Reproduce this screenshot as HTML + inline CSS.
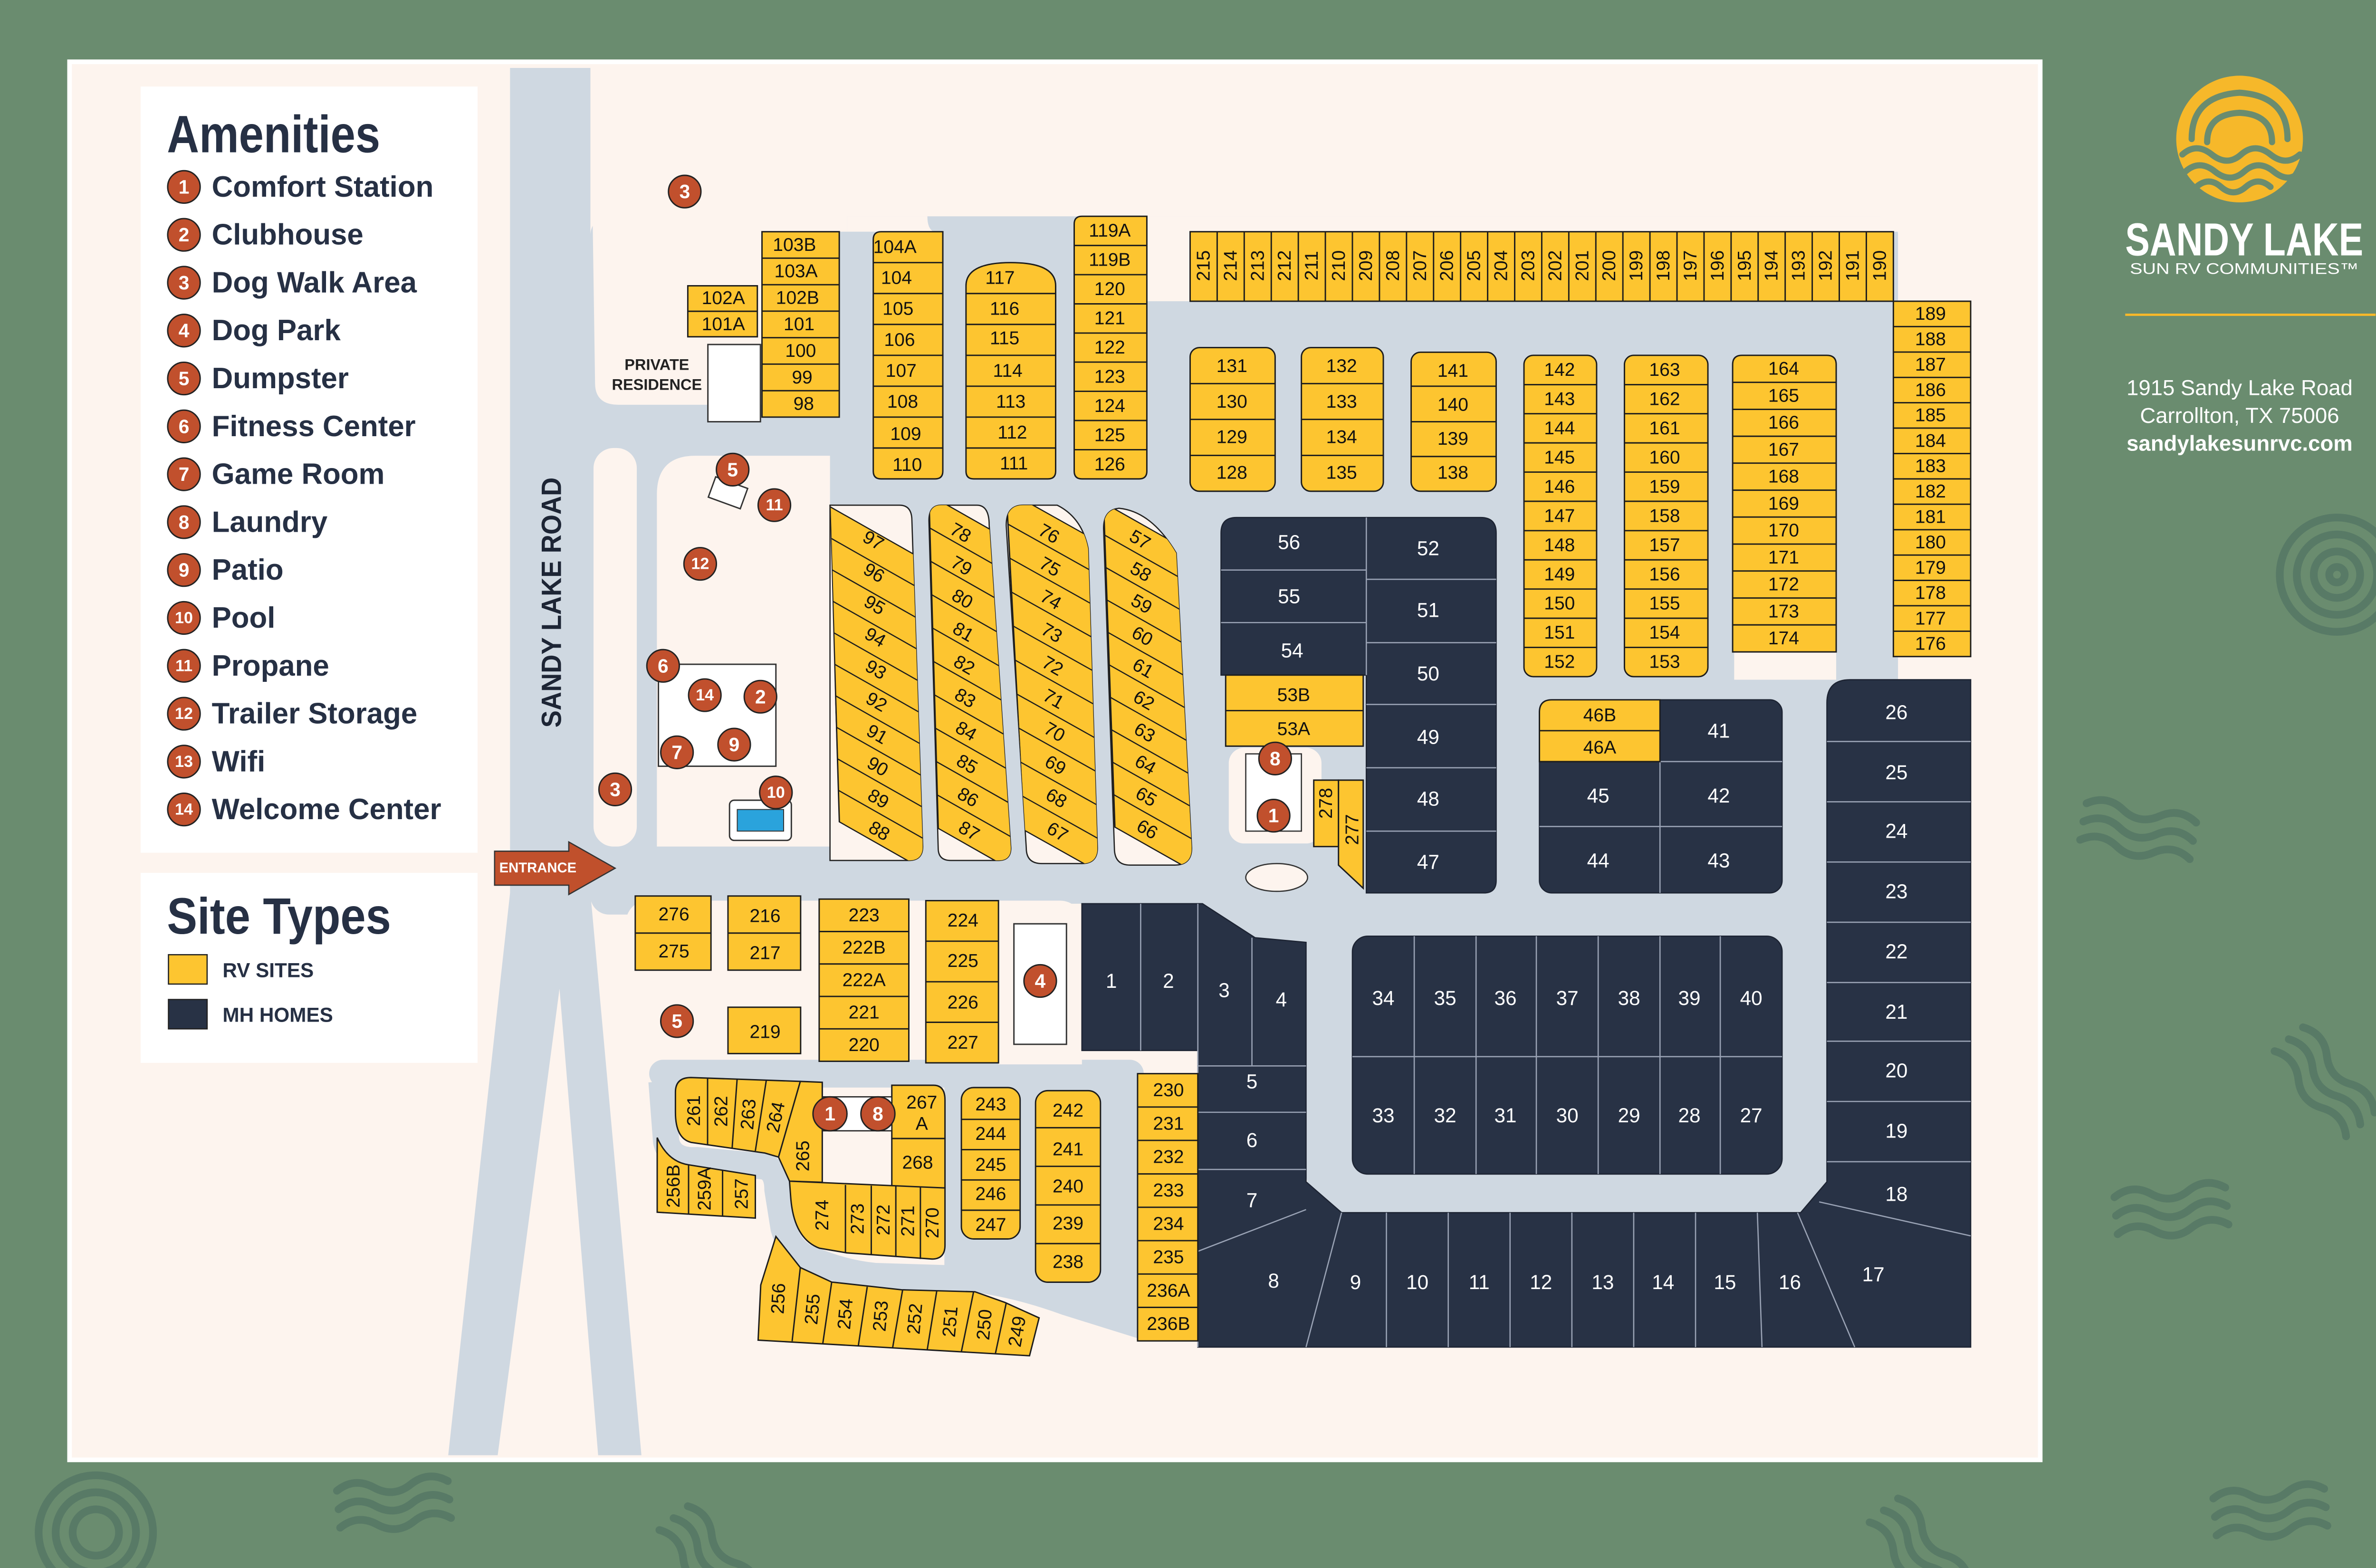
<!DOCTYPE html>
<html><head><meta charset="utf-8"><style>
html,body{margin:0;padding:0;background:#6a8c6f;}
svg{display:block}
.t{font-family:"Liberation Sans Narrow","Liberation Sans",sans-serif;font-size:12px;fill:#111;text-anchor:middle;dominant-baseline:central}
.y{fill:#fdc530;stroke:#1d1d1d;stroke-width:0.9}
.sep{stroke:#1d1d1d;stroke-width:0.9;fill:none}
.n{fill:#283245;stroke:#1d2433;stroke-width:0.8}
.nsep{stroke:#9aa3b5;stroke-width:0.8;fill:none}
.w{font-family:"Liberation Sans Narrow","Liberation Sans",sans-serif;font-size:13px;fill:#fff;text-anchor:middle;dominant-baseline:central}
.c circle{fill:#c1502d;stroke:#222;stroke-width:0.9}
.c text{font-family:"Liberation Sans",sans-serif;font-size:12.5px;font-weight:bold;fill:#fff;text-anchor:middle;dominant-baseline:central}
.lg{font-family:"Liberation Sans",sans-serif;font-size:19px;font-weight:bold;fill:#263044;dominant-baseline:central}
.dec{fill:none;stroke:#587a66;stroke-width:5;stroke-linecap:round}
.road{fill:#cfd8e1}
.cream{fill:#fdf4ee}
</style></head><body>
<svg width="5100" height="3300" viewBox="0 0 1568 1015" preserveAspectRatio="none" xmlns="http://www.w3.org/2000/svg">
<rect width="1568" height="1015" fill="#6a8c6f"/>
<g class="dec">
<circle cx="1512" cy="372" r="37"/><circle cx="1512" cy="372" r="26"/><circle cx="1512" cy="372" r="15"/><circle cx="1512" cy="372" r="5"/>
<circle cx="62" cy="992" r="37"/><circle cx="62" cy="992" r="26"/><circle cx="62" cy="992" r="15"/>
<g transform="translate(1350,520) rotate(10)"><path d="M0 0q12-8 24 0t24 0t24 0"/><path d="M0 12q12-8 24 0t24 0t24 0"/><path d="M0 24q12-8 24 0t24 0t24 0"/></g>
<g transform="translate(1490,665) rotate(50)"><path d="M0 0q12-8 24 0t24 0t24 0"/><path d="M0 12q12-8 24 0t24 0t24 0"/><path d="M0 24q12-8 24 0t24 0t24 0"/></g>
<g transform="translate(1368,775) rotate(-5)"><path d="M0 0q12-8 24 0t24 0t24 0"/><path d="M0 12q12-8 24 0t24 0t24 0"/><path d="M0 24q12-8 24 0t24 0t24 0"/></g>
<g transform="translate(218,965) rotate(-5)"><path d="M0 0q12-8 24 0t24 0t24 0"/><path d="M0 12q12-8 24 0t24 0t24 0"/><path d="M0 24q12-8 24 0t24 0t24 0"/></g>
<g transform="translate(445,975) rotate(50)"><path d="M0 0q12-8 24 0t24 0t24 0"/><path d="M0 12q12-8 24 0t24 0t24 0"/><path d="M0 24q12-8 24 0t24 0t24 0"/></g>
<g transform="translate(1228,970) rotate(50)"><path d="M0 0q12-8 24 0t24 0t24 0"/><path d="M0 12q12-8 24 0t24 0t24 0"/><path d="M0 24q12-8 24 0t24 0t24 0"/></g>
<g transform="translate(1432,970) rotate(-5)"><path d="M0 0q12-8 24 0t24 0t24 0"/><path d="M0 12q12-8 24 0t24 0t24 0"/><path d="M0 24q12-8 24 0t24 0t24 0"/></g>
</g>
<rect x="45" y="40" width="1275" height="905" class="cream" stroke="#fff" stroke-width="3"/>
<rect x="91" y="56" width="218" height="496" fill="#fff"/>
<rect x="91" y="565" width="218" height="123" fill="#fff"/>
<text x="108" y="87" textLength="138" lengthAdjust="spacingAndGlyphs" style="font-family:'Liberation Sans Narrow','Liberation Sans',sans-serif;font-size:34px;font-weight:bold;fill:#263044;dominant-baseline:central">Amenities</text>
<g class="c">
<circle cx="119" cy="121" r="10.5"/><text x="119" y="121">1</text>
<circle cx="119" cy="152" r="10.5"/><text x="119" y="152">2</text>
<circle cx="119" cy="183" r="10.5"/><text x="119" y="183">3</text>
<circle cx="119" cy="214" r="10.5"/><text x="119" y="214">4</text>
<circle cx="119" cy="245" r="10.5"/><text x="119" y="245">5</text>
<circle cx="119" cy="276" r="10.5"/><text x="119" y="276">6</text>
<circle cx="119" cy="307" r="10.5"/><text x="119" y="307">7</text>
<circle cx="119" cy="338" r="10.5"/><text x="119" y="338">8</text>
<circle cx="119" cy="369" r="10.5"/><text x="119" y="369">9</text>
<circle cx="119" cy="400" r="10.5"/><text x="119" y="400" style="font-size:10.5px">10</text>
<circle cx="119" cy="431" r="10.5"/><text x="119" y="431" style="font-size:10.5px">11</text>
<circle cx="119" cy="462" r="10.5"/><text x="119" y="462" style="font-size:10.5px">12</text>
<circle cx="119" cy="493" r="10.5"/><text x="119" y="493" style="font-size:10.5px">13</text>
<circle cx="119" cy="524" r="10.5"/><text x="119" y="524" style="font-size:10.5px">14</text>
</g>
<text class="lg" x="137" y="121">Comfort Station</text>
<text class="lg" x="137" y="152">Clubhouse</text>
<text class="lg" x="137" y="183">Dog Walk Area</text>
<text class="lg" x="137" y="214">Dog Park</text>
<text class="lg" x="137" y="245">Dumpster</text>
<text class="lg" x="137" y="276">Fitness Center</text>
<text class="lg" x="137" y="307">Game Room</text>
<text class="lg" x="137" y="338">Laundry</text>
<text class="lg" x="137" y="369">Patio</text>
<text class="lg" x="137" y="400">Pool</text>
<text class="lg" x="137" y="431">Propane</text>
<text class="lg" x="137" y="462">Trailer Storage</text>
<text class="lg" x="137" y="493">Wifi</text>
<text class="lg" x="137" y="524">Welcome Center</text>
<text x="108" y="593" textLength="145" lengthAdjust="spacingAndGlyphs" style="font-family:'Liberation Sans Narrow','Liberation Sans',sans-serif;font-size:33px;font-weight:bold;fill:#263044;dominant-baseline:central">Site Types</text>
<rect x="109" y="618" width="25" height="19" fill="#fdc530" stroke="#222" stroke-width="0.8"/>
<rect x="109" y="647" width="25" height="19" fill="#283245" stroke="#222" stroke-width="0.8"/>
<text x="144" y="628" style="font-family:'Liberation Sans',sans-serif;font-size:13px;font-weight:bold;fill:#263044;dominant-baseline:central">RV SITES</text>
<text x="144" y="657" style="font-family:'Liberation Sans',sans-serif;font-size:13px;font-weight:bold;fill:#263044;dominant-baseline:central">MH HOMES</text>

<polygon class="road" points="330,44 382,44 382,578 415,942 387,942 362,640 322,942 290,942 330,578"/>
<rect class="road" x="382" y="140" width="846" height="452" rx="12"/>
<rect class="road" x="382" y="548" width="420" height="35"/>
<rect class="road" x="700" y="575" width="485" height="35"/>
<rect class="road" x="845" y="580" width="340" height="208" rx="30"/>
<path class="cream" d="M382 44 H548 V150 H495 V262 H400 Q385 262 385 248 Z"/>
<rect class="cream" x="548" y="44" width="770" height="96"/>
<path class="cream" d="M548 140 H600 Q600 148 604 150 H548Z"/>
<path class="cream" d="M742 140 H1318 V150 H770 V195 H742Z"/>
<rect class="cream" x="384" y="290" width="28" height="258" rx="13"/>
<path class="cream" d="M450 295 H537 V548 H425 V320 Q425 295 450 295Z"/>
<rect class="cream" x="795" y="484" width="60" height="62" rx="10"/>
<ellipse class="cream" cx="826" cy="568" rx="20" ry="9" stroke="#333" stroke-width="0.8"/>
<rect class="cream" x="1122" y="415" width="66" height="25"/>
<rect x="806" y="488" width="36" height="50" fill="#fff" stroke="#333" stroke-width="0.8"/>
<rect class="cream" x="405" y="583" width="295" height="106" rx="14"/>
<polygon class="road" points="611,690 736,690 736,865 700,852 660,838 630,836 611,830"/>
<rect class="road" x="420" y="686" width="320" height="18" rx="9"/>
<path d="M428 700 L431 739 Q434 752 451 751 L494 755 Q503 757 503 770 L507 795 Q512 812 527 816 Q546 824 566 826 L631 828 Q660 832 690 843 L738 858" fill="none" stroke="#cfd8e1" stroke-width="17" stroke-linejoin="round"/>
<rect x="646" y="585" width="54" height="104" fill="#fdf4ee"/>
<rect x="656" y="598" width="34" height="78" fill="#fff" stroke="#333" stroke-width="0.9"/>

<rect x="458" y="223" width="34" height="50" fill="#fff" stroke="#333" stroke-width="0.9"/>
<text x="425" y="236" style="font-family:'Liberation Sans',sans-serif;font-size:10px;font-weight:bold;fill:#222;text-anchor:middle;dominant-baseline:central">PRIVATE</text>
<text x="425" y="249" style="font-family:'Liberation Sans',sans-serif;font-size:10px;font-weight:bold;fill:#222;text-anchor:middle;dominant-baseline:central">RESIDENCE</text>

<rect x="460" y="312" width="22" height="14" fill="#fff" stroke="#333" stroke-width="0.9" transform="rotate(20 471 319)"/>
<rect x="426" y="430" width="76" height="66" fill="#fff" stroke="#333" stroke-width="0.9"/>
<rect x="472" y="518" width="40" height="26" fill="#fff" stroke="#333" stroke-width="0.9" rx="3"/>
<rect x="477" y="524" width="30" height="14" fill="#2aa3dc" stroke="#333" stroke-width="0.6"/>

<rect class="y" x="770" y="150" width="455" height="45"/>
<path class="sep" d="M787.5 150V195M805 150V195M822.5 150V195M840 150V195M857.5 150V195M875 150V195M892.5 150V195M910 150V195M927.5 150V195M945 150V195M962.5 150V195M980 150V195M997.5 150V195M1015 150V195M1032.5 150V195M1050 150V195M1067.5 150V195M1085 150V195M1102.5 150V195M1120 150V195M1137.5 150V195M1155 150V195M1172.5 150V195M1190 150V195M1207.5 150V195"/>
<g class="t">
<text transform="translate(778.75,172) rotate(-90)">215</text><text transform="translate(796.25,172) rotate(-90)">214</text><text transform="translate(813.75,172) rotate(-90)">213</text><text transform="translate(831.25,172) rotate(-90)">212</text><text transform="translate(848.75,172) rotate(-90)">211</text><text transform="translate(866.25,172) rotate(-90)">210</text><text transform="translate(883.75,172) rotate(-90)">209</text><text transform="translate(901.25,172) rotate(-90)">208</text><text transform="translate(918.75,172) rotate(-90)">207</text><text transform="translate(936.25,172) rotate(-90)">206</text><text transform="translate(953.75,172) rotate(-90)">205</text><text transform="translate(971.25,172) rotate(-90)">204</text><text transform="translate(988.75,172) rotate(-90)">203</text><text transform="translate(1006.25,172) rotate(-90)">202</text><text transform="translate(1023.75,172) rotate(-90)">201</text><text transform="translate(1041.25,172) rotate(-90)">200</text><text transform="translate(1058.75,172) rotate(-90)">199</text><text transform="translate(1076.25,172) rotate(-90)">198</text><text transform="translate(1093.75,172) rotate(-90)">197</text><text transform="translate(1111.25,172) rotate(-90)">196</text><text transform="translate(1128.75,172) rotate(-90)">195</text><text transform="translate(1146.25,172) rotate(-90)">194</text><text transform="translate(1163.75,172) rotate(-90)">193</text><text transform="translate(1181.25,172) rotate(-90)">192</text><text transform="translate(1198.75,172) rotate(-90)">191</text><text transform="translate(1216.25,172) rotate(-90)">190</text>
</g>
<rect class="y" x="1225" y="195" width="50" height="230"/>
<path class="sep" d="M1225 211.4H1275M1225 227.9H1275M1225 244.3H1275M1225 260.7H1275M1225 277.1H1275M1225 293.6H1275M1225 310H1275M1225 326.4H1275M1225 342.9H1275M1225 359.3H1275M1225 375.7H1275M1225 392.1H1275M1225 408.6H1275"/>
<g class="t"><text x="1249" y="203.2">189</text><text x="1249" y="219.6">188</text><text x="1249" y="236.1">187</text><text x="1249" y="252.5">186</text><text x="1249" y="268.9">185</text><text x="1249" y="285.4">184</text><text x="1249" y="301.8">183</text><text x="1249" y="318.2">182</text><text x="1249" y="334.6">181</text><text x="1249" y="351.1">180</text><text x="1249" y="367.5">179</text><text x="1249" y="383.9">178</text><text x="1249" y="400.4">177</text><text x="1249" y="416.8">176</text></g>
<path class="y" d="M695 145Q695 140 700 140H742V305Q742 310 737 310H700Q695 310 695 305Z"/>
<path class="sep" d="M695 158.9H742M695 177.8H742M695 196.7H742M695 215.6H742M695 234.4H742M695 253.3H742M695 272.2H742M695 291.1H742"/>
<g class="t"><text x="718" y="149.4">119A</text><text x="718" y="168.3">119B</text><text x="718" y="187.2">120</text><text x="718" y="206.1">121</text><text x="718" y="225">122</text><text x="718" y="243.9">123</text><text x="718" y="262.8">124</text><text x="718" y="281.7">125</text><text x="718" y="300.6">126</text></g>
<path class="y" d="M625 185Q625 170 654 170Q683 170 683 185V305Q683 310 678 310H630Q625 310 625 305Z"/>
<path class="sep" d="M625 190H683M625 210H683M625 230H683M625 250H683M625 270H683M625 290H683"/>
<g class="t"><text x="647" y="180">117</text><text x="650" y="200">116</text><text x="650" y="219">115</text><text x="652" y="240">114</text><text x="654" y="260">113</text><text x="655" y="280">112</text><text x="656" y="300">111</text></g>
<path class="y" d="M565 155Q565 150 570 150H610V305Q610 310 605 310H570Q565 310 565 305Z"/>
<path class="sep" d="M565 170H610M565 190H610M565 210H610M565 230H610M565 250H610M565 270H610M565 290H610"/>
<g class="t"><text x="579" y="160">104A</text><text x="580" y="180">104</text><text x="581" y="200">105</text><text x="582" y="220">106</text><text x="583" y="240">107</text><text x="584" y="260">108</text><text x="586" y="281">109</text><text x="587" y="301">110</text></g>
<rect class="y" x="493" y="150" width="50" height="120"/>
<path class="sep" d="M493 167.1H543M493 184.3H543M493 201.4H543M493 218.6H543M493 235.7H543M493 252.9H543"/>
<g class="t"><text x="514" y="158.6">103B</text><text x="515" y="175.7">103A</text><text x="516" y="192.9">102B</text><text x="517" y="210">101</text><text x="518" y="227.1">100</text><text x="519" y="244.3">99</text><text x="520" y="261.4">98</text></g>
<rect class="y" x="445" y="185" width="45" height="33"/>
<path class="sep" d="M445 201.5H490"/>
<g class="t"><text x="468" y="193">102A</text><text x="468" y="210">101A</text></g>
<rect class="y" x="770" y="225" width="55" height="93" rx="6"/><path class="sep" d="M770 248.3H825M770 271.5H825M770 294.8H825"/>
<rect class="y" x="842" y="225" width="53" height="93" rx="6"/><path class="sep" d="M842 248.3H895M842 271.5H895M842 294.8H895"/>
<rect class="y" x="913" y="228" width="55" height="90" rx="6"/><path class="sep" d="M913 250H968M913 273H968M913 295.5H968"/>
<g class="t"><text x="797" y="237">131</text><text x="797" y="260">130</text><text x="797" y="283">129</text><text x="797" y="306">128</text>
<text x="868" y="237">132</text><text x="868" y="260">133</text><text x="868" y="283">134</text><text x="868" y="306">135</text>
<text x="940" y="240">141</text><text x="940" y="262">140</text><text x="940" y="284">139</text><text x="940" y="306">138</text></g>
<rect class="y" x="986" y="230" width="47" height="208" rx="6"/>
<path class="sep" d="M986 249H1033M986 267.8H1033M986 286.7H1033M986 305.6H1033M986 324.5H1033M986 343.5H1033M986 362.4H1033M986 381.3H1033M986 400.2H1033M986 419.1H1033"/>
<g class="t"><text x="1009" y="239.5">142</text><text x="1009" y="258.4">143</text><text x="1009" y="277.3">144</text><text x="1009" y="296.2">145</text><text x="1009" y="315.1">146</text><text x="1009" y="334">147</text><text x="1009" y="352.9">148</text><text x="1009" y="371.8">149</text><text x="1009" y="390.7">150</text><text x="1009" y="409.6">151</text><text x="1009" y="428.5">152</text></g>
<rect class="y" x="1051" y="230" width="54" height="208" rx="6"/>
<path class="sep" d="M1051 249H1105M1051 267.8H1105M1051 286.7H1105M1051 305.6H1105M1051 324.5H1105M1051 343.5H1105M1051 362.4H1105M1051 381.3H1105M1051 400.2H1105M1051 419.1H1105"/>
<g class="t"><text x="1077" y="239.5">163</text><text x="1077" y="258.4">162</text><text x="1077" y="277.3">161</text><text x="1077" y="296.2">160</text><text x="1077" y="315.1">159</text><text x="1077" y="334">158</text><text x="1077" y="352.9">157</text><text x="1077" y="371.8">156</text><text x="1077" y="390.7">155</text><text x="1077" y="409.6">154</text><text x="1077" y="428.5">153</text></g>
<path class="y" d="M1121 236Q1121 230 1127 230H1182Q1188 230 1188 236V422H1121Z"/>
<path class="sep" d="M1121 247.5H1188M1121 265H1188M1121 282.4H1188M1121 299.8H1188M1121 317.3H1188M1121 334.7H1188M1121 352.2H1188M1121 369.6H1188M1121 387.1H1188M1121 404.5H1188"/>
<g class="t"><text x="1154" y="238.7">164</text><text x="1154" y="256.2">165</text><text x="1154" y="273.6">166</text><text x="1154" y="291.1">167</text><text x="1154" y="308.5">168</text><text x="1154" y="326">169</text><text x="1154" y="343.4">170</text><text x="1154" y="360.9">171</text><text x="1154" y="378.3">172</text><text x="1154" y="395.8">173</text><text x="1154" y="413.2">174</text></g>

<defs>
<clipPath id="k1"><path d="M537 327H582Q590 327 590 337L597 548Q597 557 588 557H543Z"/></clipPath>
<clipPath id="k2"><path d="M609 327H632Q640 327 640 340L654 549Q654 557 646 557H615Q607 557 607 549L601 337Q601 327 609 327Z"/></clipPath>
<clipPath id="k3"><path d="M662 327H684Q700 335 704 355L710 549Q710 559 700 559H674Q664 559 664 549L651 340Q651 327 662 327Z"/></clipPath>
<clipPath id="k4"><path d="M724 329Q745 331 761 358L771 549Q771 560 760 560H731Q721 560 721 549L714 342Q714 330 724 329Z"/></clipPath>
</defs>
<path class="cream" d="M537 327H582Q590 327 590 337L597 548Q597 557 588 557H537Z" stroke="#222" stroke-width="0.8"/>
<path class="cream" d="M609 327H632Q640 327 640 340L654 549Q654 557 646 557H615Q607 557 607 549L601 337Q601 327 609 327Z" stroke="#222" stroke-width="0.8"/>
<path class="cream" d="M662 327H684Q700 335 704 355L710 549Q710 559 700 559H674Q664 559 664 549L651 340Q651 327 662 327Z" stroke="#222" stroke-width="0.8"/>
<path class="cream" d="M724 329Q745 331 761 358L771 549Q771 560 760 560H731Q721 560 721 549L714 342Q714 330 724 329Z" stroke="#222" stroke-width="0.8"/>
<g clip-path="url(#k1)"><g transform="translate(537,328) skewX(1.7) skewY(30)"><rect class="y" x="0" y="0" width="62" height="204"/><path class="sep" d="M0 20.4H62M0 40.8H62M0 61.2H62M0 81.6H62M0 102H62M0 122.4H62M0 142.8H62M0 163.2H62M0 183.6H62"/></g></g>
<g clip-path="url(#k2)"><g transform="translate(601,320.2) skewX(1.6) skewY(30)"><rect class="y" x="0" y="0" width="56" height="216"/><path class="sep" d="M0 21.6H56M0 43.2H56M0 64.8H56M0 86.4H56M0 108H56M0 129.6H56M0 151.2H56M0 172.8H56M0 194.4H56"/></g></g>
<g clip-path="url(#k3)"><g transform="translate(651,317.3) skewX(3) skewY(30)"><rect class="y" x="0" y="0" width="62" height="220"/><path class="sep" d="M0 22H62M0 44H62M0 66H62M0 88H62M0 110H62M0 132H62M0 154H62M0 176H62M0 198H62"/></g></g>
<g clip-path="url(#k4)"><g transform="translate(714,325.4) skewX(2) skewY(30)"><rect class="y" x="0" y="0" width="60" height="210"/><path class="sep" d="M0 21H60M0 42H60M0 63H60M0 84H60M0 105H60M0 126H60M0 147H60M0 168H60M0 189H60"/></g></g>
<g class="t">
<text transform="translate(565,350) rotate(30)">97</text><text transform="translate(565.4,370.9) rotate(30)">96</text><text transform="translate(565.8,391.8) rotate(30)">95</text><text transform="translate(566.2,412.7) rotate(30)">94</text><text transform="translate(566.6,433.6) rotate(30)">93</text><text transform="translate(567,454.5) rotate(30)">92</text><text transform="translate(567.4,475.4) rotate(30)">91</text><text transform="translate(567.8,496.3) rotate(30)">90</text><text transform="translate(568.2,517.2) rotate(30)">89</text><text transform="translate(568.8,538) rotate(30)">88</text>
<text transform="translate(621.4,345) rotate(30)">78</text><text transform="translate(622,366.4) rotate(30)">79</text><text transform="translate(622.6,387.8) rotate(30)">80</text><text transform="translate(623.2,409.2) rotate(30)">81</text><text transform="translate(623.8,430.6) rotate(30)">82</text><text transform="translate(624.4,452) rotate(30)">83</text><text transform="translate(625,473.4) rotate(30)">84</text><text transform="translate(625.6,494.8) rotate(30)">85</text><text transform="translate(626.2,516.2) rotate(30)">86</text><text transform="translate(626.9,538) rotate(30)">87</text>
<text transform="translate(678.6,345.6) rotate(30)">76</text><text transform="translate(679.2,367) rotate(30)">75</text><text transform="translate(679.8,388.4) rotate(30)">74</text><text transform="translate(680.4,409.8) rotate(30)">73</text><text transform="translate(681,431.2) rotate(30)">72</text><text transform="translate(681.6,452.6) rotate(30)">71</text><text transform="translate(682.2,474) rotate(30)">70</text><text transform="translate(682.8,495.4) rotate(30)">69</text><text transform="translate(683.4,516.8) rotate(30)">68</text><text transform="translate(684.1,538.6) rotate(30)">67</text>
<text transform="translate(737.5,349.5) rotate(30)">57</text><text transform="translate(738,370.3) rotate(30)">58</text><text transform="translate(738.5,391.1) rotate(30)">59</text><text transform="translate(739,411.9) rotate(30)">60</text><text transform="translate(739.5,432.7) rotate(30)">61</text><text transform="translate(740,453.5) rotate(30)">62</text><text transform="translate(740.5,474.3) rotate(30)">63</text><text transform="translate(741,495.1) rotate(30)">64</text><text transform="translate(741.5,515.9) rotate(30)">65</text><text transform="translate(742.2,537) rotate(30)">66</text>
</g>

<path class="n" d="M800 335H958Q968 335 968 345V570Q968 578 960 578H884V437H790V345Q790 335 800 335Z"/>
<path class="nsep" d="M884 335V437M790 369H884M790 403H884M884 375H968M884 416H968M884 456H968M884 497H968M884 538H968"/>
<rect class="y" x="793" y="437" width="89" height="46"/>
<path class="sep" d="M793 460H882"/>
<polygon class="y" points="850,505 866,505 866,548 850,548"/>
<polygon class="y" points="866,505 882,505 882,575 866,560"/>
<g class="w"><text x="834" y="351">56</text><text x="834" y="386">55</text><text x="836" y="421">54</text><text x="924" y="355">52</text><text x="924" y="395">51</text><text x="924" y="436">50</text><text x="924" y="477">49</text><text x="924" y="517">48</text><text x="924" y="558">47</text></g>
<g class="t"><text x="837" y="450">53B</text><text x="837" y="472">53A</text><text transform="translate(858,520) rotate(-90)">278</text><text transform="translate(875,537) rotate(-90)">277</text></g>
<rect class="n" x="996" y="453" width="157" height="125" rx="8"/>
<path class="nsep" d="M1074 453V578M996 535H1153M1074 493H1153"/>
<path class="y" d="M1004 453H1074V493H996V461Q996 453 1004 453Z"/>
<path class="sep" d="M996 473H1074"/>
<g class="t"><text x="1035" y="463">46B</text><text x="1035" y="484">46A</text></g>
<g class="w"><text x="1112" y="473">41</text><text x="1034" y="515">45</text><text x="1112" y="515">42</text><text x="1034" y="557">44</text><text x="1112" y="557">43</text></g>
<rect class="n" x="875" y="606" width="278" height="154" rx="10"/>
<path class="nsep" d="M915 606V760M955 606V760M994 606V760M1034 606V760M1074 606V760M1113 606V760M875 684H1153"/>
<g class="w"><text x="895" y="646">34</text><text x="935" y="646">35</text><text x="974" y="646">36</text><text x="1014" y="646">37</text><text x="1054" y="646">38</text><text x="1093" y="646">39</text><text x="1133" y="646">40</text>
<text x="895" y="722">33</text><text x="935" y="722">32</text><text x="974" y="722">31</text><text x="1014" y="722">30</text><text x="1054" y="722">29</text><text x="1093" y="722">28</text><text x="1133" y="722">27</text></g>
<path class="n" d="M700 585H778L812 607L845 610V765L868 785H1165L1182 765V455Q1182 440 1197 440H1275V872H775V680H700Z"/>
<path class="nsep" d="M738 585V680M775 585V872M810 607V690M775 690H845M775 720H845M775 757H845M775 810L845 783M845 872L868 785M897 785V872M937 785V872M977 785V872M1017 785V872M1057 785V872M1097 785V872M1137 785L1140 872M1163 785L1200 872M1177 778L1275 800M1182 480H1275M1182 519H1275M1182 558H1275M1182 597H1275M1182 636H1275M1182 674H1275M1182 713H1275M1182 752H1275"/>
<g class="w"><text x="719" y="635">1</text><text x="756" y="635">2</text><text x="792" y="641">3</text><text x="829" y="647">4</text><text x="810" y="700">5</text><text x="810" y="738">6</text><text x="810" y="777">7</text><text x="824" y="829">8</text><text x="877" y="830">9</text><text x="917" y="830">10</text><text x="957" y="830">11</text><text x="997" y="830">12</text><text x="1037" y="830">13</text><text x="1076" y="830">14</text><text x="1116" y="830">15</text><text x="1158" y="830">16</text><text x="1212" y="825">17</text><text x="1227" y="773">18</text><text x="1227" y="732">19</text><text x="1227" y="693">20</text><text x="1227" y="655">21</text><text x="1227" y="616">22</text><text x="1227" y="577">23</text><text x="1227" y="538">24</text><text x="1227" y="500">25</text><text x="1227" y="461">26</text></g>

<rect class="y" x="411" y="580" width="49" height="48"/><path class="sep" d="M411 604H460"/>
<g class="t"><text x="436" y="592">276</text><text x="436" y="616">275</text></g>
<rect class="y" x="471" y="580" width="47" height="48"/><path class="sep" d="M471 604H518"/>
<rect class="y" x="471" y="652" width="47" height="30"/>
<g class="t"><text x="495" y="593">216</text><text x="495" y="617">217</text><text x="495" y="668">219</text></g>
<rect class="y" x="530" y="582" width="58" height="105"/><path class="sep" d="M530 603H588M530 624H588M530 645H588M530 666H588"/>
<g class="t"><text x="559" y="592.5">223</text><text x="559" y="613.5">222B</text><text x="559" y="634.5">222A</text><text x="559" y="655.5">221</text><text x="559" y="676.5">220</text></g>
<rect class="y" x="599" y="583" width="47" height="105"/><path class="sep" d="M599 609.25H646M599 635.5H646M599 661.75H646"/>
<g class="t"><text x="623" y="596">224</text><text x="623" y="622">225</text><text x="623" y="649">226</text><text x="623" y="675">227</text></g>
<rect class="y" x="736" y="695" width="39" height="173"/><path class="sep" d="M736 716.6H775M736 738.2H775M736 759.9H775M736 781.5H775M736 803.1H775M736 824.7H775M736 846.3H775"/>
<g class="t"><text x="756" y="705.8">230</text><text x="756" y="727.4">231</text><text x="756" y="749">232</text><text x="756" y="770.6">233</text><text x="756" y="792.3">234</text><text x="756" y="813.9">235</text><text x="756" y="835.5">236A</text><text x="756" y="857.1">236B</text></g>
<rect class="y" x="670" y="706" width="42" height="124" rx="8"/><path class="sep" d="M670 730H712M670 755H712M670 780H712M670 805H712"/>
<g class="t"><text x="691" y="719">242</text><text x="691" y="744">241</text><text x="691" y="768">240</text><text x="691" y="792">239</text><text x="691" y="817">238</text></g>
<rect class="y" x="622" y="704" width="38" height="98" rx="8"/><path class="sep" d="M622 724.6H660M622 744.2H660M622 763.8H660M622 783.4H660"/>
<g class="t"><text x="641" y="715">243</text><text x="641" y="734">244</text><text x="641" y="754">245</text><text x="641" y="773">246</text><text x="641" y="793">247</text></g>
<path class="y" d="M447 697.5L517.8 700L503.7 749L494.9 746.4L447.2 739.5Q437 737 437 720V707Q437 697.5 447 697.5Z"/>
<path class="sep" d="M457.8 698V741M476.9 698.6L473.7 743M495.8 699.2L488.7 745"/>
<polygon class="y" points="517.8,700 532,700.6 532,765.3 510.8,764.6 503.7,749"/>
<path class="y" d="M577 702.5H604Q611.4 702.5 611.4 712V737H577Z"/>
<rect class="y" x="577" y="737" width="34.4" height="32"/>
<path class="y" d="M510.8 764.6L611.4 769V806Q611.4 815 603 815L547.8 811L530.2 808Q514 802 511.7 776.5Z"/>
<path class="sep" d="M547 767V811M563.7 767.5V812.5M579.6 768V813.5M595.5 768.5V815"/>
<path class="y" d="M425.2 736.4Q432 752 445.5 754L488.7 760.9V788.5L425.2 784.7Z"/>
<path class="sep" d="M445.5 754V786M467.5 757.5V787.4"/>
<path class="y" d="M502 800.4L517.8 820.5L538.1 829.9L583.2 834.9L630.8 836.2L650.2 843.1L672.3 853.1L666.1 877.6L490.5 867.5L492.2 831.8Z"/>
<path class="sep" d="M517.8 820.5L512.5 868.2M538.1 829.9L532.3 870M561.1 833L555.3 871.3M584 834.9L577.5 872.6M606.1 835.5L599.9 873.8M629.9 836.2L622 875M651.1 843.1L644 876.3"/>
<rect x="532" y="710" width="45" height="22" fill="#fff" stroke="#222" stroke-width="0.8"/>
<g class="t">
<text transform="translate(449,719) rotate(-90)">261</text><text transform="translate(466.7,719.4) rotate(-90)">262</text><text transform="translate(484.3,721.3) rotate(-85)">263</text><text transform="translate(502,723.2) rotate(-78)">264</text>
<text transform="translate(519.6,748.3) rotate(-90)">265</text>
<text x="596.4" y="713.8">267</text><text x="596.4" y="727.6">A</text><text x="593.7" y="752.7">268</text>
<text transform="translate(532,786.6) rotate(-90)">274</text><text transform="translate(554.9,789) rotate(-90)">273</text><text transform="translate(571.7,789.7) rotate(-90)">272</text><text transform="translate(587.6,790.4) rotate(-90)">271</text><text transform="translate(603.4,791.6) rotate(-90)">270</text>
<text transform="translate(435.8,767.8) rotate(-90)">256B</text><text transform="translate(456,769.6) rotate(-90)">259A</text><text transform="translate(479.9,772.8) rotate(-90)">257</text>
<text transform="translate(503.7,840.6) rotate(-87)">256</text><text transform="translate(525.8,847.5) rotate(-85)">255</text><text transform="translate(547,850.6) rotate(-85)">254</text><text transform="translate(569.9,851.9) rotate(-85)">253</text><text transform="translate(592,853.7) rotate(-85)">252</text><text transform="translate(614.9,855.6) rotate(-85)">251</text><text transform="translate(637,857.5) rotate(-85)">250</text><text transform="translate(658.2,861.9) rotate(-80)">249</text>
</g>

<g class="c">
<circle cx="443" cy="124" r="10.5"/><text x="443" y="124">3</text>
<circle cx="474" cy="304" r="10.5"/><text x="474" y="304">5</text>
<circle cx="501" cy="327" r="10.5"/><text x="501" y="327" style="font-size:10.5px">11</text>
<circle cx="453" cy="365" r="10.5"/><text x="453" y="365" style="font-size:10.5px">12</text>
<circle cx="429" cy="431" r="10.5"/><text x="429" y="431">6</text>
<circle cx="456" cy="450" r="10.5"/><text x="456" y="450" style="font-size:10.5px">14</text>
<circle cx="492" cy="451" r="10.5"/><text x="492" y="451">2</text>
<circle cx="438" cy="487" r="10.5"/><text x="438" y="487">7</text>
<circle cx="475" cy="482" r="10.5"/><text x="475" y="482">9</text>
<circle cx="502" cy="513" r="10.5"/><text x="502" y="513" style="font-size:10.5px">10</text>
<circle cx="398" cy="511" r="10.5"/><text x="398" y="511">3</text>
<circle cx="825" cy="491" r="10.5"/><text x="825" y="491">8</text>
<circle cx="824" cy="528" r="10.5"/><text x="824" y="528">1</text>
<circle cx="673" cy="635" r="10.5"/><text x="673" y="635">4</text>
<circle cx="438" cy="661" r="10.5"/><text x="438" y="661">5</text>
<circle cx="537" cy="721" r="11"/><text x="537" y="721">1</text>
<circle cx="568" cy="721" r="11"/><text x="568" y="721">8</text>
</g>

<text transform="translate(357,390) rotate(-90)" textLength="162" lengthAdjust="spacingAndGlyphs" style="font-family:'Liberation Sans',sans-serif;font-size:18px;font-weight:bold;fill:#1d2535;text-anchor:middle;dominant-baseline:central">SANDY LAKE ROAD</text>
<polygon points="320,551 368,551 368,545 398,562 368,579 368,573 320,573" fill="#c0502c" stroke="#333" stroke-width="0.8"/>
<text x="348" y="562" style="font-family:'Liberation Sans',sans-serif;font-size:9px;font-weight:bold;fill:#fff;text-anchor:middle;dominant-baseline:central">ENTRANCE</text>

<circle cx="1449" cy="90" r="41" fill="#f6b82a"/>
<g fill="none" stroke="#6a8c6f" stroke-width="4" stroke-linecap="round">
<path d="M1418 90q0-28 31-30q31 2 31 30"/>
<path d="M1428 92q0-18 21-19q21 1 21 19"/>
<path d="M1412 100q9-8 19 0t19 0t19 0t19 0"/>
<path d="M1414 111q9-8 19 0t19 0t19 0t17 0"/>
<path d="M1421 121q8-7 16 0t16 0t16 0"/>
</g>
<text x="1375" y="155" textLength="154" lengthAdjust="spacingAndGlyphs" style="font-family:'Liberation Sans Narrow','Liberation Sans',sans-serif;font-size:30px;font-weight:bold;fill:#fff;dominant-baseline:central">SANDY LAKE</text>
<text x="1378" y="174" textLength="148" lengthAdjust="spacingAndGlyphs" style="font-family:'Liberation Sans',sans-serif;font-size:10px;fill:#fff;dominant-baseline:central">SUN RV COMMUNITIES™</text>
<rect x="1375" y="203" width="162" height="1.5" fill="#f6b82a"/>
<text x="1449" y="251" style="font-family:'Liberation Sans',sans-serif;font-size:14px;fill:#fff;text-anchor:middle;dominant-baseline:central">1915 Sandy Lake Road</text>
<text x="1449" y="269" style="font-family:'Liberation Sans',sans-serif;font-size:14px;fill:#fff;text-anchor:middle;dominant-baseline:central">Carrollton, TX 75006</text>
<text x="1449" y="287" style="font-family:'Liberation Sans',sans-serif;font-size:14px;font-weight:bold;fill:#fff;text-anchor:middle;dominant-baseline:central">sandylakesunrvc.com</text>
</svg>
</body></html>
